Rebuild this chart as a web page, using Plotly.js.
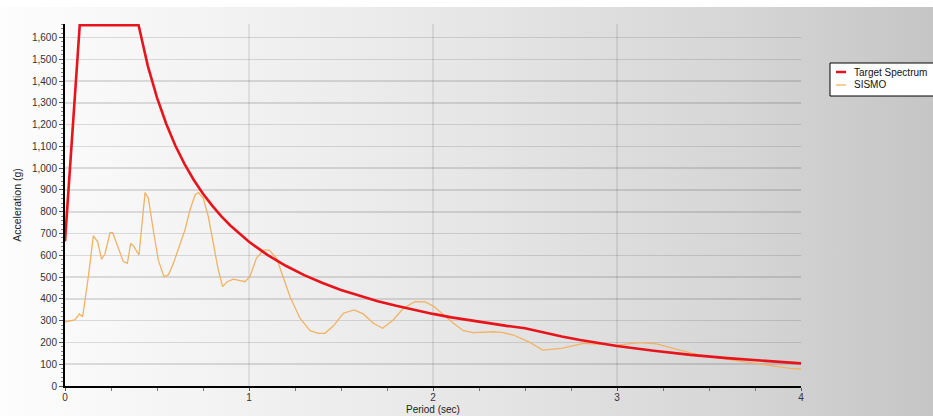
<!DOCTYPE html>
<html>
<head>
<meta charset="utf-8">
<script src="https://cdn.plot.ly/plotly-3.0.1.min.js"></script>
<style>
html, body { margin:0; padding:0; background:#ffffff; }
#chart {
  width:933px; height:416px;
  background:
    linear-gradient(to bottom, #ffffff 0px, #ffffff 7px, rgba(255,255,255,0) 7px),
    linear-gradient(to right, #fdfdfd 0%, #e9e9e9 45%, #d6d6d6 79%, #c5c5c5 100%);
}
</style>
</head>
<body>
<div id="chart"></div>
<script>
// Target spectrum (period in sec, acceleration in g)
const targetPeriod = [0, 0.08, 0.40, 0.45, 0.5, 0.55, 0.6, 0.65, 0.7, 0.75, 0.8, 0.85, 0.9, 0.95, 1.0,
  1.1, 1.2, 1.3, 1.4, 1.5, 1.6, 1.7, 1.8, 1.9, 2.0, 2.1, 2.2, 2.3, 2.4, 2.5,
  2.6, 2.7, 2.8, 2.9, 3.0, 3.2, 3.4, 3.6, 3.8, 4.0];
const targetAccel = [665, 1656, 1656, 1470, 1324, 1204, 1103, 1019, 946, 883, 828, 779, 736, 697, 662,
  602, 552, 509, 473, 441, 414, 389, 368, 348, 331, 315, 301, 288, 276, 265,
  245, 227, 211, 197, 184, 162, 143, 128, 115, 104];

// SISMO record spectrum
const sismoPeriod = [0, 0.054, 0.078, 0.096, 0.127, 0.154, 0.177, 0.199, 0.217, 0.245, 0.259, 0.29, 0.317, 0.339,
  0.357, 0.375, 0.402, 0.435, 0.453, 0.48, 0.507, 0.538, 0.562, 0.589, 0.625, 0.652, 0.679, 0.707, 0.725,
  0.752, 0.779, 0.806, 0.833, 0.857, 0.882, 0.915, 0.951, 0.978, 1.005, 1.04, 1.078, 1.11, 1.15, 1.186,
  1.223, 1.277, 1.332, 1.377, 1.413, 1.458, 1.513, 1.571, 1.621, 1.676, 1.726, 1.784, 1.839, 1.902, 1.957,
  2.002, 2.056, 2.111, 2.165, 2.219, 2.328, 2.373, 2.437, 2.527, 2.596, 2.699, 2.817, 2.998, 3.125, 3.216,
  3.342, 3.45, 3.632, 3.813, 3.94, 4.0];
const sismoAccel = [295, 303, 331, 318, 502, 689, 663, 582, 606, 704, 704, 632, 571, 563,
  655, 640, 601, 888, 862, 715, 578, 502, 510, 563, 655, 716, 808, 877, 888,
  862, 777, 655, 533, 456, 479, 491, 483, 479, 502, 586, 624, 624, 586, 502,
  410, 311, 254, 242, 242, 275, 334, 349, 331, 288, 265, 303, 357, 387, 386,
  367, 326, 288, 254, 245, 249, 246, 234, 200, 165, 173, 196, 188, 199, 193,
  165, 142, 119, 96, 81, 78];

const seriesNames = ['Target Spectrum', 'SISMO'];
const seriesColors = ['#e8141b', '#f2b263'];
const xTitle = 'Period (sec)';
const yTitle = 'Acceleration (g)';

const FONT = 'Liberation Sans, Arial, sans-serif';

const traces = [
  { x: sismoPeriod, y: sismoAccel, name: seriesNames[1], type: 'scatter', mode: 'lines',
    line: { color: seriesColors[1], width: 1.3 }, hoverinfo: 'skip' },
  { x: targetPeriod, y: targetAccel, name: seriesNames[0], type: 'scatter', mode: 'lines',
    line: { color: seriesColors[0], width: 2.6 }, hoverinfo: 'skip' }
];

// paper-coordinate helpers for a custom legend box and x title
const plotL = 65, plotR = 801, plotT = 24, plotB = 386;
const px = v => (v - plotL) / (plotR - plotL);
const py = v => (plotB - v) / (plotB - plotT);

const layout = {
  width: 933, height: 416,
  margin: { l: plotL, r: 933 - plotR, t: plotT, b: 416 - plotB, autoexpand: false },
  paper_bgcolor: 'rgba(0,0,0,0)',
  plot_bgcolor: 'rgba(0,0,0,0)',
  showlegend: false,
  font: { family: FONT, size: 10, color: '#333333' },
  xaxis: {
    range: [0, 4], dtick: 1, tick0: 0,
    showgrid: true, gridcolor: 'rgba(0,0,0,0.08)', gridwidth: 1.5,
    zeroline: false, showline: true, linecolor: '#000000', linewidth: 2,
    ticks: 'outside', ticklen: 3, tickcolor: '#555555', tickwidth: 1,
    ticklabelstandoff: -2,
    minor: { dtick: 0.25, ticks: 'outside', ticklen: 3, tickcolor: '#777777', showgrid: false },
    tickfont: { family: FONT, size: 10, color: '#333333' }
  },
  yaxis: {
    range: [0, 1662], dtick: 100, tick0: 0, tickformat: ',d',
    showgrid: true, gridcolor: 'rgba(0,0,0,0.12)', gridwidth: 1.5,
    zeroline: false, showline: true, linecolor: '#000000', linewidth: 2,
    ticks: 'outside', ticklen: 4, tickcolor: '#555555', tickwidth: 1,
    minor: { dtick: 20, ticks: 'outside', ticklen: 2, tickcolor: '#888888', showgrid: false },
    tickfont: { family: FONT, size: 10, color: '#333333' },
    title: { text: yTitle, font: { family: FONT, size: 10.5, color: '#222222' }, standoff: 8 }
  },
  shapes: [
    { type: 'rect', xref: 'paper', yref: 'paper', x0: px(830), x1: px(945), y0: py(96), y1: py(63),
      fillcolor: '#ffffff', line: { color: '#000000', width: 1 } },
    { type: 'line', xref: 'paper', yref: 'paper', x0: px(836), x1: px(846), y0: py(72), y1: py(72),
      line: { color: seriesColors[0], width: 2.5 } },
    { type: 'line', xref: 'paper', yref: 'paper', x0: px(836), x1: px(846), y0: py(85), y1: py(85),
      line: { color: seriesColors[1], width: 1.3 } }
  ],
  annotations: [
    { xref: 'paper', yref: 'paper', x: px(852), y: py(72), xanchor: 'left', yanchor: 'middle',
      text: seriesNames[0], showarrow: false, font: { family: FONT, size: 10, color: '#111111' } },
    { xref: 'paper', yref: 'paper', x: px(852), y: py(85), xanchor: 'left', yanchor: 'middle',
      text: seriesNames[1], showarrow: false, font: { family: FONT, size: 10, color: '#111111' } },
    { xref: 'paper', yref: 'paper', x: 0.5, y: py(416), xanchor: 'center', yanchor: 'bottom',
      borderpad: 0, text: xTitle, showarrow: false, font: { family: FONT, size: 10, color: '#222222' } }
  ]
};

Plotly.newPlot('chart', traces, layout, { staticPlot: true, displayModeBar: false });
</script>
</body>
</html>
